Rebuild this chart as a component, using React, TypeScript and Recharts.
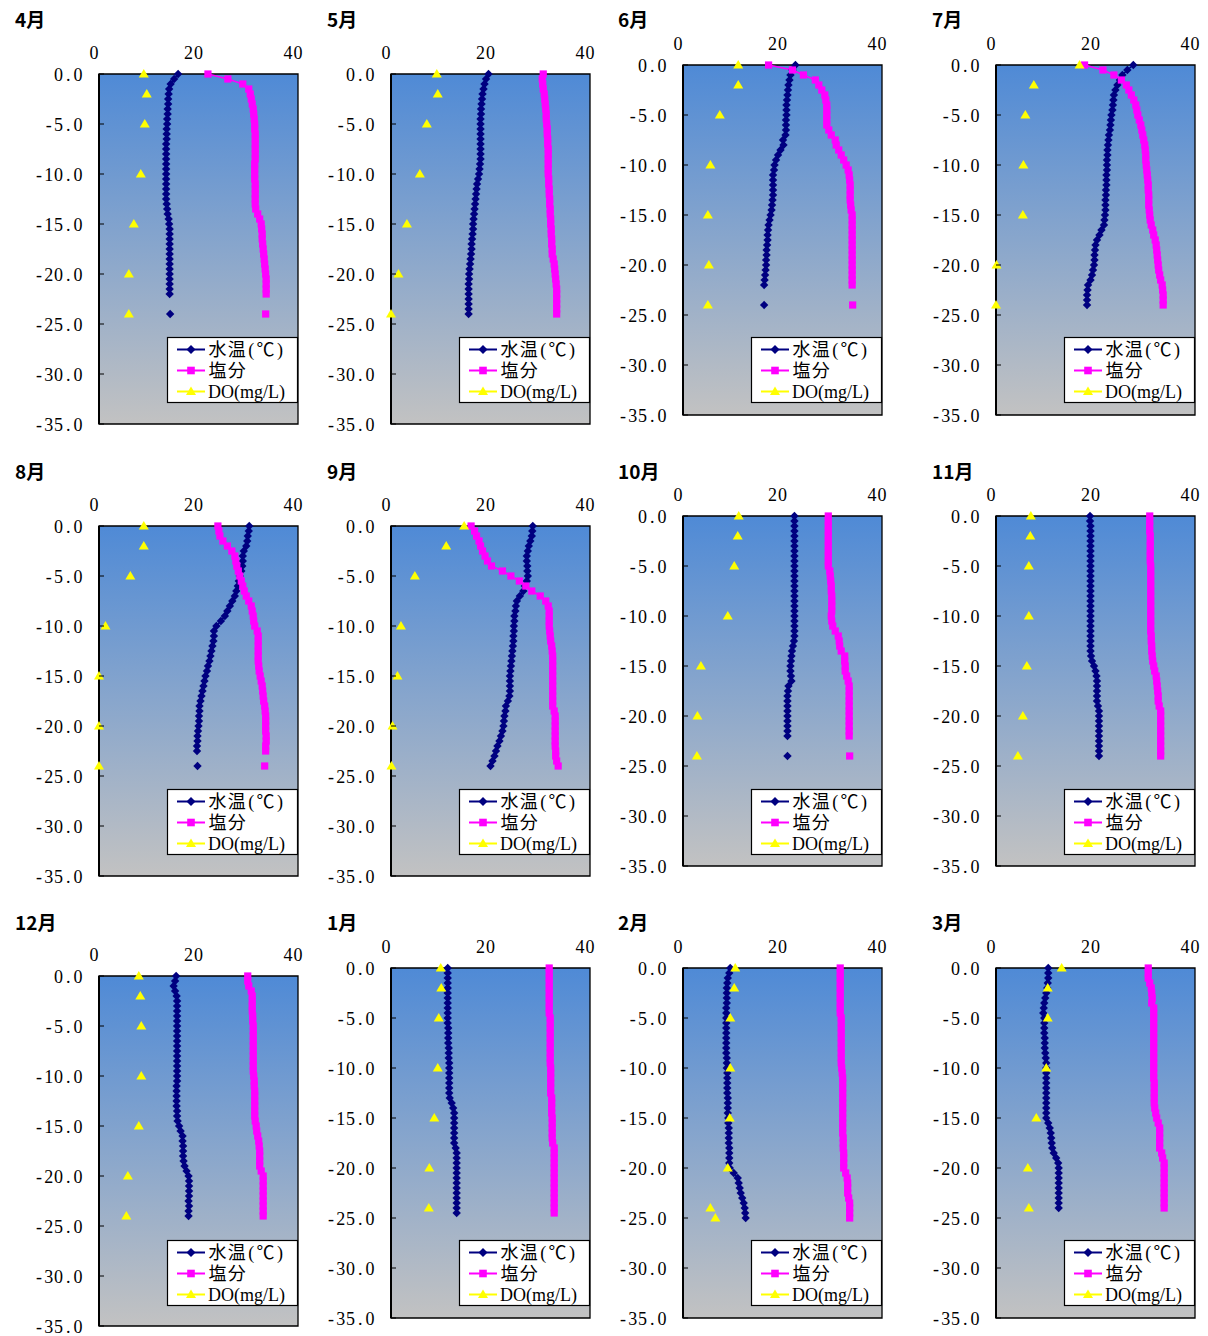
import React from 'react';
import { ComposedChart, Line, XAxis, YAxis, CartesianGrid, ReferenceArea } from 'recharts';

// ---------- data ----------
const DEPTHS = [0, -0.5, -1, -1.5, -2, -2.5, -3, -3.5, -4, -4.5, -5, -5.5, -6, -6.5, -7, -7.5, -8, -8.5, -9, -9.5,
  -10, -10.5, -11, -11.5, -12, -12.5, -13, -13.5, -14, -14.5, -15, -15.5, -16, -16.5, -17, -17.5, -18, -18.5, -19, -19.5,
  -20, -20.5, -21, -21.5, -22, -22.5, -23, -23.5, -24, -24.5, -25];
const DO_DEPTHS = [0, -2, -5, -10, -15, -20, -24, -25];
const X_TICKS = [0, 20, 40];
const Y_TICKS = [0, -5, -10, -15, -20, -25, -30, -35];
const MONTHS = ['4月', '5月', '6月', '7月', '8月', '9月', '10月', '11月', '12月', '1月', '2月', '3月'];
const SERIES_NAMES = ['水温(℃)', '塩分', 'DO(mg/L)'];

const TEMP_04 = [15.9, 15.1, 14.4, 14.1, 14.0, 13.9, 13.9, 13.8, 13.8, 13.7, 13.7, 13.6, 13.6, 13.6, 13.5, 13.5, 13.5, 13.5, 13.5, 13.5, 13.5, 13.5, 13.5, 13.5, 13.5, 13.5, 13.6, 13.7, 13.8, 14.0, 14.1, 14.2, 14.2, 14.2, 14.2, 14.2, 14.2, 14.2, 14.2, 14.2, 14.2, 14.2, 14.2, 14.2, 14.2, null, null, null, 14.3];
const SAL_04 = [21.9, 25.9, 28.9, 30.1, 30.4, 30.6, 30.8, 31.0, 31.1, 31.2, 31.3, 31.3, 31.4, 31.4, 31.4, 31.4, 31.4, 31.4, 31.3, 31.3, 31.3, 31.3, 31.4, 31.4, 31.4, 31.4, 31.4, 31.5, 31.9, 32.3, 32.6, 32.7, 32.8, 32.8, 32.9, 33.0, 33.1, 33.2, 33.3, 33.4, 33.5, 33.6, 33.6, 33.6, 33.6, null, null, null, 33.5];
const DO_04 = [9.0, 9.6, 9.2, 8.4, 7.0, 6.0, 6.0];

const TEMP_05 = [19.6, 19.1, 18.8, 18.6, 18.4, 18.3, 18.2, 18.1, 18.1, 18.0, 18.0, 18.0, 18.0, 18.0, 18.0, 18.0, 18.0, 18.0, 17.9, 17.8, 17.7, 17.5, 17.3, 17.2, 17.1, 17.0, 16.9, 16.8, 16.7, 16.6, 16.5, 16.5, 16.4, 16.3, 16.2, 16.2, 16.1, 16.0, 15.9, 15.8, 15.7, 15.7, 15.6, 15.6, 15.6, 15.6, 15.6, 15.6, 15.6];
const SAL_05 = [30.6, 30.4, 30.5, 30.6, 30.8, 30.9, 31.0, 31.1, 31.2, 31.2, 31.3, 31.4, 31.4, 31.5, 31.5, 31.6, 31.6, 31.6, 31.6, 31.6, 31.6, 31.7, 31.7, 31.8, 31.8, 31.9, 31.9, 32.0, 32.0, 32.1, 32.1, 32.2, 32.2, 32.3, 32.3, 32.4, 32.4, 32.6, 32.8, 32.9, 33.0, 33.1, 33.2, 33.3, 33.3, 33.3, 33.3, 33.3, 33.3];
const DO_05 = [9.2, 9.4, 7.2, 5.8, 3.2, 1.5, 0.0];

const TEMP_06 = [22.6, 22.0, 21.6, 21.4, 21.2, 21.1, 21.0, 20.9, 20.8, 20.8, 20.8, 20.7, 20.7, 20.7, 20.6, 20.1, 20.2, 19.6, 19.1, 18.7, 18.4, 18.3, 18.1, 18.1, 18.1, 18.1, 18.1, 18.0, 17.9, 17.8, 17.6, 17.4, 17.2, 17.1, 17.0, 17.0, 16.9, 16.8, 16.8, 16.7, 16.7, 16.6, 16.5, 16.4, 16.3, null, null, null, 16.3];
const SAL_06 = [17.2, 22.0, 24.2, 26.6, 27.3, 27.9, 28.5, 28.7, 28.9, 28.9, 28.9, 28.9, 28.9, 29.3, 29.8, 30.6, 30.8, 31.3, 31.8, 32.3, 32.8, 33.2, 33.4, 33.5, 33.6, 33.6, 33.6, 33.6, 33.7, 33.8, 34.0, 34.0, 34.0, 34.0, 34.0, 34.0, 34.0, 34.0, 34.0, 34.0, 34.0, 34.0, 34.0, 34.0, 34.0, null, null, null, 34.1];
const DO_06 = [11.1, 11.1, 7.4, 5.5, 5.0, 5.2, 5.0];

const TEMP_07 = [27.6, 26.4, 25.4, 24.9, 24.4, 24.0, 23.7, 23.6, 23.5, 23.4, 23.2, 23.1, 23.0, 22.9, 22.7, 22.6, 22.5, 22.4, 22.4, 22.3, 22.3, 22.3, 22.2, 22.2, 22.2, 22.1, 22.1, 22.0, 22.0, 22.0, 21.9, 21.8, 21.7, 21.2, 20.8, 20.3, 20.0, 19.9, 19.8, 19.8, 19.7, 19.5, 19.3, 19.0, 18.5, 18.4, 18.3, 18.3, 18.3];
const SAL_07 = [17.8, 21.5, 23.7, 25.2, 26.2, 26.7, 27.2, 27.7, 28.1, 28.3, 28.5, 28.8, 29.1, 29.3, 29.5, 29.7, 29.9, 30.0, 30.1, 30.1, 30.2, 30.3, 30.4, 30.5, 30.6, 30.6, 30.7, 30.7, 30.7, 30.8, 30.9, 31.0, 31.2, 31.5, 31.7, 32.0, 32.2, 32.3, 32.4, 32.5, 32.6, 32.7, 32.9, 33.1, 33.4, 33.5, 33.6, 33.6, 33.6];
const DO_07 = [16.8, 7.6, 5.9, 5.5, 5.4, 0.1, 0.0];

const TEMP_08 = [30.2, 30.1, 29.9, 29.8, 29.6, 29.1, 28.9, 28.9, 28.8, 28.6, 28.3, 28.1, 27.9, 27.6, 27.3, 26.8, 26.3, 25.8, 25.3, 24.5, 23.6, 23.1, 23.1, 23.0, 22.8, 22.6, 22.4, 22.2, 21.9, 21.7, 21.4, 21.2, 21.0, 20.8, 20.6, 20.4, 20.2, 20.2, 20.1, 20.1, 20.0, 19.9, 19.8, 19.8, 19.7, 19.7, null, null, 19.8];
const SAL_08 = [23.9, 24.1, 24.3, 24.9, 25.8, 26.7, 27.3, 27.5, 27.7, 28.0, 28.3, 28.6, 28.9, 29.2, 29.6, 30.1, 30.6, 30.8, 31.0, 31.1, 31.3, 31.8, 32.0, 32.0, 32.0, 32.0, 32.0, 32.0, 32.1, 32.2, 32.4, 32.6, 32.8, 32.9, 33.0, 33.1, 33.3, 33.4, 33.5, 33.5, 33.5, 33.5, 33.6, 33.6, 33.5, 33.5, null, null, 33.3];
const DO_08 = [9.0, 9.0, 6.3, 1.3, 0.0, 0.0, 0.0];

const TEMP_09 = [28.5, 28.4, 28.3, 28.0, 27.7, 27.5, 27.3, 27.3, 27.4, 27.4, 27.5, 27.3, 26.9, 26.6, 25.9, 25.3, 25.1, 25.0, 24.8, 24.8, 24.7, 24.7, 24.6, 24.6, 24.5, 24.4, 24.3, 24.2, 24.1, 24.0, 23.9, 23.9, 23.9, 23.9, 23.8, 23.5, 23.1, 23.0, 22.8, 22.7, 22.6, 22.4, 22.1, 21.8, 21.4, 21.1, 20.8, 20.4, 20.0];
const SAL_09 = [16.1, 16.8, 17.2, 17.7, 18.0, 18.4, 18.9, 19.4, 20.2, 22.4, 24.1, 25.8, 27.1, 28.3, 30.0, 31.1, 31.6, 31.8, 31.8, 31.8, 31.8, 31.9, 32.0, 32.1, 32.3, 32.4, 32.5, 32.5, 32.5, 32.5, 32.5, 32.5, 32.5, 32.5, 32.5, 32.5, 32.5, 32.8, 33.0, 33.0, 33.0, 33.0, 33.0, 33.0, 33.0, 33.1, 33.1, 33.3, 33.6];
const DO_09 = [14.7, 11.1, 4.8, 2.0, 1.3, 0.3, 0.1];

const TEMP_10 = [22.4, 22.4, 22.4, 22.4, 22.4, 22.4, 22.4, 22.4, 22.4, 22.4, 22.4, 22.4, 22.4, 22.4, 22.4, 22.4, 22.4, 22.4, 22.4, 22.4, 22.4, 22.4, 22.4, 22.4, 22.4, 22.3, 22.1, 21.9, 21.8, 21.7, 21.6, 21.6, 21.7, 21.8, 21.2, 21.1, 21.0, 21.0, 21.0, 21.0, 21.0, 21.0, 21.0, 21.0, 21.0, null, null, null, 21.0];
const SAL_10 = [29.2, 29.2, 29.2, 29.2, 29.2, 29.2, 29.2, 29.2, 29.2, 29.2, 29.2, 29.5, 29.6, 29.7, 29.8, 29.8, 29.9, 29.9, 29.9, 29.9, 29.8, 29.9, 30.1, 30.6, 31.2, 31.4, 31.5, 31.8, 32.5, 32.5, 32.6, 32.6, 32.9, 33.2, 33.4, 33.4, 33.4, 33.4, 33.4, 33.4, 33.4, 33.4, 33.4, 33.4, 33.4, null, null, null, 33.5];
const DO_10 = [11.2, 11.0, 10.3, 9.0, 3.6, 2.9, 2.8];

const TEMP_11 = [18.9, 18.9, 19.0, 19.0, 19.0, 19.0, 19.0, 19.0, 19.0, 19.0, 19.0, 19.0, 19.0, 19.0, 19.0, 19.0, 19.0, 19.0, 19.0, 19.0, 19.0, 19.0, 19.0, 19.0, 19.0, 19.0, 19.0, 19.0, 19.1, 19.3, 19.7, 20.0, 20.2, 20.3, 20.3, 20.3, 20.3, 20.3, 20.5, 20.7, 20.7, 20.7, 20.7, 20.7, 20.7, 20.7, 20.7, 20.7, 20.7];
const SAL_11 = [30.9, 30.9, 30.9, 30.9, 31.0, 31.0, 31.0, 31.0, 31.0, 31.0, 31.1, 31.1, 31.1, 31.1, 31.1, 31.1, 31.1, 31.1, 31.1, 31.1, 31.1, 31.1, 31.1, 31.1, 31.2, 31.2, 31.3, 31.3, 31.4, 31.5, 31.7, 31.9, 32.2, 32.3, 32.4, 32.5, 32.6, 32.6, 32.8, 33.1, 33.1, 33.1, 33.1, 33.1, 33.1, 33.1, 33.1, 33.1, 33.1];
const DO_11 = [7.0, 6.9, 6.6, 6.6, 6.2, 5.4, 4.4];

const TEMP_12 = [15.5, 15.3, 15.0, 15.3, 15.6, 15.7, 15.7, 15.7, 15.7, 15.7, 15.7, 15.7, 15.7, 15.7, 15.7, 15.7, 15.7, 15.7, 15.7, 15.7, 15.7, 15.7, 15.6, 15.6, 15.6, 15.6, 15.6, 15.7, 15.7, 15.8, 16.1, 16.4, 16.8, 16.8, 16.9, 16.9, 16.9, 17.0, 17.2, 17.6, 18.0, 18.1, 18.1, 18.1, 18.1, 18.0, 18.1, 18.0, 18.0];
const SAL_12 = [29.9, 29.9, 30.1, 30.6, 30.8, 30.8, 30.8, 30.8, 30.9, 30.9, 31.0, 31.0, 31.0, 31.0, 31.0, 31.0, 31.0, 31.0, 31.0, 31.0, 31.1, 31.2, 31.2, 31.3, 31.3, 31.3, 31.3, 31.3, 31.3, 31.4, 31.6, 31.7, 31.9, 32.1, 32.2, 32.3, 32.3, 32.3, 32.3, 32.6, 33.0, 33.0, 33.0, 33.0, 33.0, 33.0, 33.0, 33.0, 33.0];
const DO_12 = [8.0, 8.3, 8.5, 8.5, 8.0, 5.8, 5.5];

const TEMP_01 = [11.4, 11.4, 11.4, 11.4, 11.4, 11.4, 11.4, 11.4, 11.4, 11.4, 11.4, 11.4, 11.5, 11.5, 11.5, 11.5, 11.6, 11.6, 11.6, 11.7, 11.7, 11.7, 11.7, 11.7, 11.7, 11.7, 11.8, 12.2, 12.5, 12.7, 12.7, 12.7, 12.7, 12.7, 12.7, 12.7, 13.0, 13.2, 13.2, 13.2, 13.2, 13.2, 13.2, 13.2, 13.2, 13.2, 13.2, 13.2, 13.2, 13.2];
const SAL_01 = [31.8, 31.8, 31.8, 31.8, 31.8, 31.8, 31.8, 31.8, 31.8, 31.8, 32.0, 32.0, 32.0, 32.0, 32.0, 32.0, 32.0, 32.0, 32.0, 32.0, 32.1, 32.1, 32.1, 32.1, 32.1, 32.1, 32.3, 32.3, 32.3, 32.3, 32.4, 32.4, 32.4, 32.4, 32.4, 32.5, 32.8, 32.8, 32.8, 32.8, 32.8, 32.8, 32.8, 32.8, 32.8, 32.8, 32.8, 32.8, 32.8, 32.8];
const DO_01 = [10.0, 10.1, 9.6, 9.4, 8.7, 7.7, 7.6];

const TEMP_02 = [9.5, 9.3, 9.0, 8.9, 8.8, 8.8, 8.8, 8.8, 8.7, 8.7, 8.7, 8.7, 8.7, 8.7, 8.7, 8.7, 8.7, 8.7, 8.8, 8.8, 8.8, 8.9, 8.9, 8.9, 8.9, 8.9, 9.0, 9.0, 9.0, 9.0, 9.1, 9.1, 9.2, 9.2, 9.2, 9.2, 9.3, 9.3, 9.3, 9.3, 9.4, 10.2, 11.0, 11.2, 11.4, 11.6, 11.9, 12.2, 12.4, 12.5, 12.6];
const SAL_02 = [31.6, 31.6, 31.6, 31.6, 31.6, 31.6, 31.6, 31.6, 31.6, 31.6, 31.8, 31.8, 31.8, 31.8, 31.8, 31.8, 31.8, 31.8, 31.8, 31.8, 31.9, 32.0, 32.1, 32.1, 32.1, 32.1, 32.1, 32.1, 32.1, 32.1, 32.1, 32.1, 32.1, 32.1, 32.2, 32.2, 32.2, 32.3, 32.3, 32.3, 32.3, 32.7, 33.0, 33.1, 33.1, 33.1, 33.3, 33.5, 33.5, 33.5, 33.5];
const DO_02 = [10.5, 10.3, 9.5, 9.5, 9.4, 9.0, 5.5, 6.5];

const TEMP_03 = [10.5, 10.5, 10.5, 10.4, 10.3, 10.1, 9.9, 9.7, 9.6, 9.5, 9.7, 9.7, 9.7, 9.7, 9.8, 9.8, 9.8, 9.9, 10.0, 10.1, 10.1, 10.1, 10.1, 10.1, 10.1, 10.1, 10.1, 10.1, 10.1, 10.1, 10.1, 10.5, 10.8, 11.0, 11.1, 11.2, 11.3, 11.6, 12.1, 12.5, 12.6, 12.6, 12.6, 12.6, 12.6, 12.6, 12.6, 12.6, 12.6];
const SAL_03 = [30.6, 30.6, 30.6, 30.9, 31.2, 31.3, 31.4, 31.3, 31.7, 31.7, 31.7, 31.7, 31.7, 31.7, 31.7, 31.7, 31.7, 31.7, 31.7, 31.7, 31.7, 31.7, 31.7, 31.8, 31.8, 31.8, 31.8, 31.8, 31.9, 32.1, 32.3, 32.6, 32.9, 32.9, 32.9, 32.9, 32.9, 33.3, 33.5, 33.8, 33.8, 33.8, 33.8, 33.8, 33.8, 33.8, 33.8, 33.8, 33.8];
const DO_03 = [13.2, 10.4, 10.4, 10.1, 8.1, 6.4, 6.6];

const TEMPS = [TEMP_04, TEMP_05, TEMP_06, TEMP_07, TEMP_08, TEMP_09, TEMP_10, TEMP_11, TEMP_12, TEMP_01, TEMP_02, TEMP_03];
const SALS = [SAL_04, SAL_05, SAL_06, SAL_07, SAL_08, SAL_09, SAL_10, SAL_11, SAL_12, SAL_01, SAL_02, SAL_03];
const DOS = [DO_04, DO_05, DO_06, DO_07, DO_08, DO_09, DO_10, DO_11, DO_12, DO_01, DO_02, DO_03];

// ---------- layout ----------
const COL_LEFT = [99, 391, 683, 996];
const PLOT_TOP = [74, 74, 65, 65, 526, 526, 516, 516, 976, 968, 968, 968];
const TITLE_X = [15, 327, 618, 932];
const TITLE_Y = [27, 479, 930];
const LEGEND_Y = [337, 789, 1240];
const PW = 199;
const PH = 350;
const ML = 80;
const MT = 40;
const MR = 12;
const MB = 12;

const NAVY = '#000080';
const MAGENTA = '#ff00ff';
const YELLOW = '#ffff00';
const SERIF = '"Liberation Serif", "Noto Sans CJK JP", serif';
const HALF = 9.8;

const isWide = (c: string) => /[\u2100-\u214f\u3000-\u9fff\uff00-\uffef]/.test(c);

function MonoText({ x, y, text, anchor = 'start', size = 18, half = HALF }: any) {
  const chars = Array.from(String(text));
  const units = chars.map((c) => (isWide(c) ? 2 : 1));
  const total = units.reduce((a, b) => a + b, 0) * half;
  let cur = anchor === 'end' ? x - total : anchor === 'middle' ? x - total / 2 : x;
  const spans = chars.map((c, i) => {
    const w = units[i] * half;
    const cx = cur + w / 2;
    cur += w;
    return (
      <tspan key={i} x={cx}>
        {c}
      </tspan>
    );
  });
  return (
    <text y={y} textAnchor="middle" fontFamily={SERIF} fontSize={size} fill="#000">
      {spans}
    </text>
  );
}

const bad = (v: any) => v == null || Number.isNaN(v);

const diamondDot = (p: any) => {
  const { cx, cy, index } = p;
  if (bad(cx) || bad(cy)) return <g key={`t${index}`} />;
  const r = 4.2;
  return <path key={`t${index}`} d={`M${cx},${cy - r}L${cx + r},${cy}L${cx},${cy + r}L${cx - r},${cy}Z`} fill={NAVY} />;
};
const squareDot = (p: any) => {
  const { cx, cy, index } = p;
  if (bad(cx) || bad(cy)) return <g key={`s${index}`} />;
  const r = 3.6;
  return <rect key={`s${index}`} x={cx - r} y={cy - r} width={2 * r} height={2 * r} fill={MAGENTA} />;
};
const triDot = (p: any) => {
  const { cx, cy, index } = p;
  if (bad(cx) || bad(cy)) return <g key={`d${index}`} />;
  return <path key={`d${index}`} d={`M${cx},${cy - 5}L${cx + 5},${cy + 3.5}L${cx - 5},${cy + 3.5}Z`} fill={YELLOW} />;
};

const XTick = (p: any) => <MonoText x={p.x - 5} y={MT - 15} text={String(p.payload.value)} anchor="middle" />;
const YTick = (p: any) => (
  <g>
    <line x1={ML} x2={ML + 5} y1={p.y} y2={p.y} stroke="#000" strokeWidth={1} />
    <MonoText x={ML - 16} y={p.y + 7} text={Number(p.payload.value).toFixed(1)} anchor="end" />
  </g>
);

// contiguous runs of measured values, so that gaps in a profile stay open
function runs(arr: (number | null)[]) {
  const out: [number, number][] = [];
  let s = -1;
  arr.forEach((v, k) => {
    if (v != null && s < 0) s = k;
    if (v == null && s >= 0) {
      out.push([s, k - 1]);
      s = -1;
    }
  });
  if (s >= 0) out.push([s, arr.length - 1]);
  return out;
}

function buildPanel(i: number) {
  const temp = TEMPS[i];
  const sal = SALS[i];
  const dov = DOS[i];
  const tRuns = runs(temp);
  const sRuns = runs(sal);
  const rows = DEPTHS.map((d, k) => {
    const di = DO_DEPTHS.indexOf(d);
    const row: any = { depth: d, dox: di >= 0 ? dov[di] ?? null : null };
    tRuns.forEach(([a, b], j) => {
      row[`temp${j}`] = k >= a && k <= b ? temp[k] : null;
    });
    sRuns.forEach(([a, b], j) => {
      row[`sal${j}`] = k >= a && k <= b ? sal[k] : null;
    });
    return row;
  });
  return { rows, tKeys: tRuns.map((_, j) => `temp${j}`), sKeys: sRuns.map((_, j) => `sal${j}`) };
}

function Panel({ i }: { i: number }) {
  const left = COL_LEFT[i % 4];
  const top = PLOT_TOP[i];
  const { rows, tKeys, sKeys } = buildPanel(i);
  const gid = `bg${i}`;
  return (
    <div style={{ position: 'absolute', left: left - ML, top: top - MT }}>
      <ComposedChart
        width={ML + PW + MR}
        height={MT + PH + MB}
        layout="vertical"
        data={rows}
        margin={{ top: 0, right: MR, bottom: MB, left: 0 }}
      >
        <defs>
          <linearGradient id={gid} x1="0" y1="0" x2="0" y2="1">
            <stop offset="0%" stopColor="#4f8ad6" />
            <stop offset="100%" stopColor="#c2c2c2" />
          </linearGradient>
        </defs>
        <CartesianGrid horizontal={false} vertical={false} fill={`url(#${gid})`} fillOpacity={1} />
        <XAxis
          type="number"
          orientation="top"
          domain={[0, 40]}
          ticks={X_TICKS}
          height={MT}
          axisLine={false}
          tickLine={false}
          tick={XTick}
          interval={0}
        />
        <YAxis
          type="number"
          dataKey="depth"
          domain={[-35, 0]}
          ticks={Y_TICKS}
          width={ML}
          reversed
          axisLine={{ stroke: '#000', strokeWidth: 2 }}
          tickLine={false}
          tick={YTick}
          interval={0}
        />
        <ReferenceArea x1={0} x2={40} y1={-35} y2={0} fill="none" fillOpacity={0} stroke="#000" strokeWidth={1.3} />
        {tKeys.map((k) => (
          <Line key={k} dataKey={k} stroke={NAVY} strokeWidth={1.5} dot={diamondDot} activeDot={false} isAnimationActive={false} connectNulls={false} />
        ))}
        {sKeys.map((k) => (
          <Line key={k} dataKey={k} stroke={MAGENTA} strokeWidth={1.5} dot={squareDot} activeDot={false} isAnimationActive={false} connectNulls={false} />
        ))}
        <Line dataKey="dox" stroke="none" dot={triDot} activeDot={false} isAnimationActive={false} connectNulls={false} />
      </ComposedChart>
    </div>
  );
}

function LegendBox({ x, y }: { x: number; y: number }) {
  const colors = [NAVY, MAGENTA, YELLOW];
  return (
    <g transform={`translate(${x},${y})`}>
      <rect x={0.5} y={0.5} width={130} height={65} fill="#fff" stroke="#000" strokeWidth={1.2} />
      {SERIES_NAMES.map((name, k) => {
        const cy = 12.5 + 21 * k;
        const c = colors[k];
        const mx = 24;
        const wide = Array.from(name).some((ch) => isWide(ch));
        return (
          <g key={name}>
            <line x1={10} x2={38} y1={cy} y2={cy} stroke={c} strokeWidth={2} />
            {k === 0 && <path d={`M${mx},${cy - 4.5}L${mx + 4.5},${cy}L${mx},${cy + 4.5}L${mx - 4.5},${cy}Z`} fill={c} />}
            {k === 1 && <rect x={mx - 3.8} y={cy - 3.8} width={7.6} height={7.6} fill={c} />}
            {k === 2 && <path d={`M${mx},${cy - 5}L${mx + 5},${cy + 3.5}L${mx - 5},${cy + 3.5}Z`} fill={c} />}
            {wide ? (
              <MonoText x={41} y={cy + 6.5} text={name} anchor="start" size={18} half={9.6} />
            ) : (
              <text x={41} y={cy + 6.5} fontFamily={SERIF} fontSize={18} fill="#000">
                {name}
              </text>
            )}
          </g>
        );
      })}
    </g>
  );
}

export default function App() {
  return (
    <div style={{ position: 'absolute', left: 0, top: 0, width: 1208, height: 1336, background: '#fff' }}>
      {MONTHS.map((m, i) => (
        <Panel key={m} i={i} />
      ))}
      <svg width={1208} height={1336} style={{ position: 'absolute', left: 0, top: 0, pointerEvents: 'none' }}>
        {MONTHS.map((m, i) => (
          <text
            key={`t${m}`}
            x={TITLE_X[i % 4]}
            y={TITLE_Y[Math.floor(i / 4)]}
            fontFamily='"Noto Sans CJK JP", sans-serif'
            fontWeight={700}
            fontSize={19}
            fill="#000"
          >
            {m}
          </text>
        ))}
        {MONTHS.map((m, i) => (
          <LegendBox key={`l${m}`} x={COL_LEFT[i % 4] + PW - 131} y={LEGEND_Y[Math.floor(i / 4)]} />
        ))}
      </svg>
    </div>
  );
}
